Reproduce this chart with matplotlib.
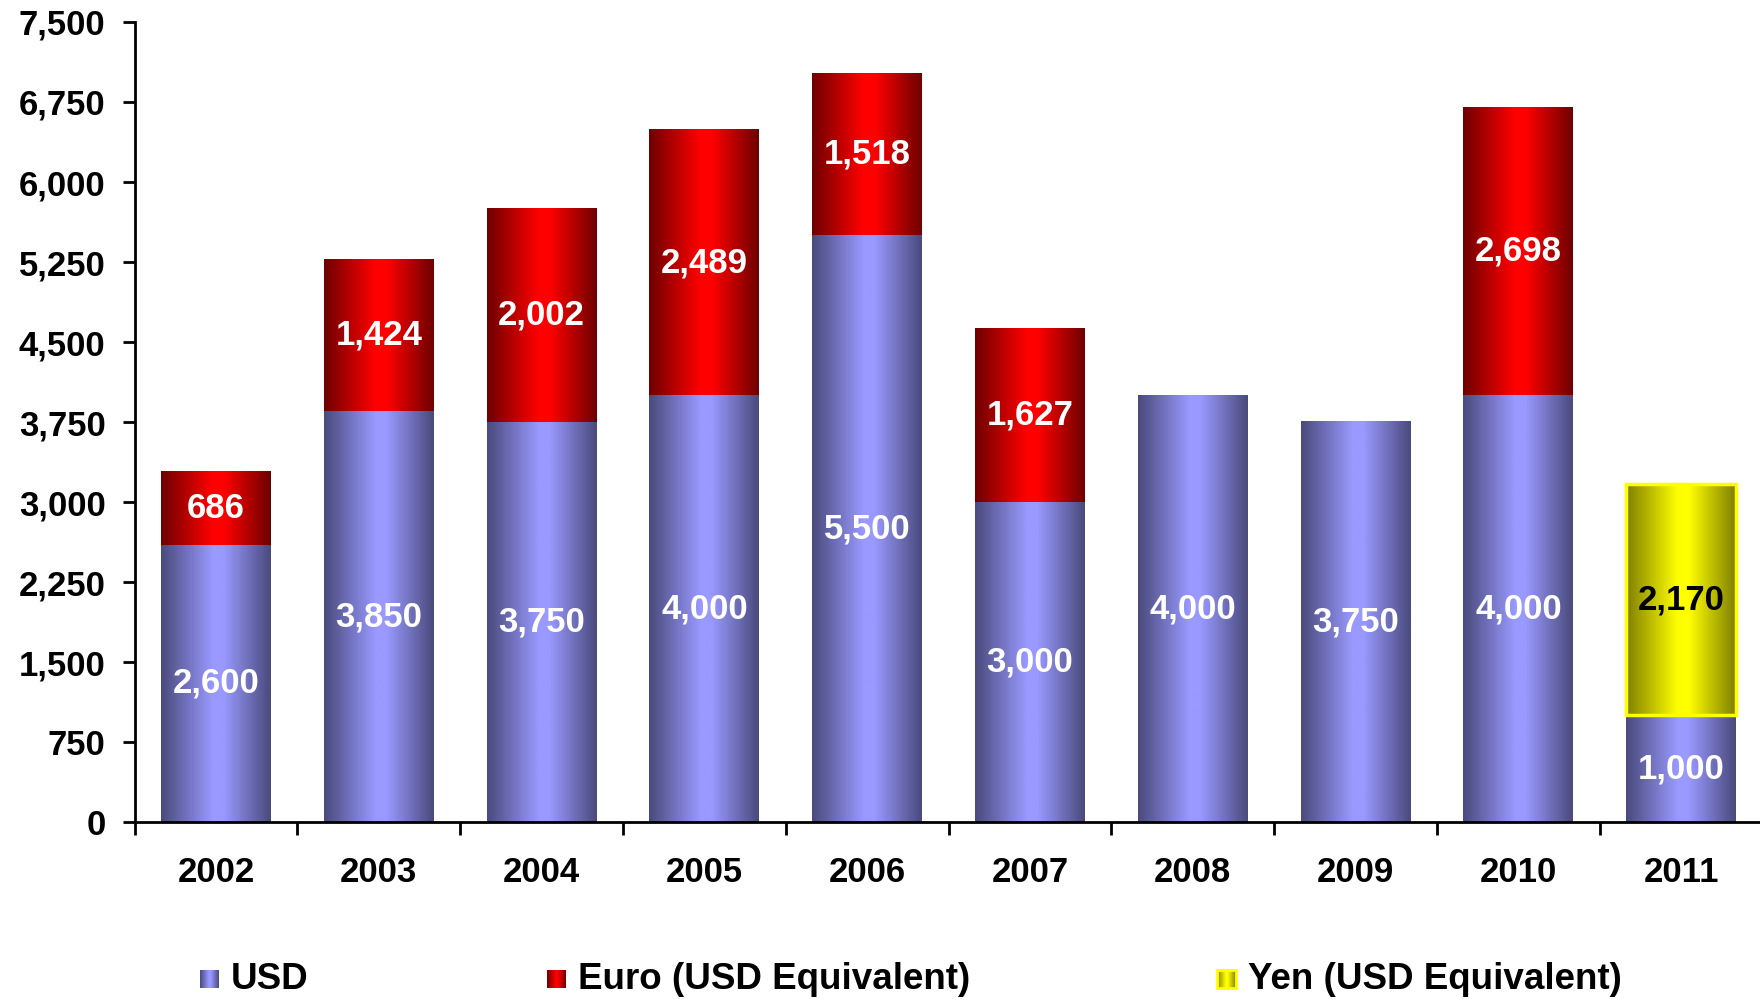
import numpy as np
import matplotlib
matplotlib.use("Agg")
import matplotlib.pyplot as plt
from matplotlib.colors import LinearSegmentedColormap
from matplotlib.patches import Rectangle
from matplotlib.ticker import FuncFormatter, FixedLocator

plt.rcParams['font.family'] = ['Liberation Sans', 'DejaVu Sans']
plt.rcParams['font.weight'] = 'bold'

years = ['2002', '2003', '2004', '2005', '2006', '2007', '2008', '2009', '2010', '2011']
usd = [2600, 3850, 3750, 4000, 5500, 3000, 4000, 3750, 4000, 1000]
euro = [686, 1424, 2002, 2489, 1518, 1627, 0, 0, 2698, 0]
yen = [0, 0, 0, 0, 0, 0, 0, 0, 0, 2170]
series_names = ['USD', 'Euro (USD Equivalent)', 'Yen (USD Equivalent)']

# colormaps: dark edges, bright middle (cylinder look)
cm_usd = LinearSegmentedColormap.from_list('usd', [(0, '#4a4a7c'), (0.47, '#9999ff'), (0.57, '#9999ff'), (1, '#4a4a7c')])
cm_eur = LinearSegmentedColormap.from_list('eur', [(0, '#6e0000'), (0.47, '#ff0000'), (0.57, '#ff0000'), (1, '#6e0000')])
cm_yen = LinearSegmentedColormap.from_list('yen', [(0, '#7f7f00'), (0.47, '#ffff00'), (0.57, '#ffff00'), (1, '#7f7f00')])
grad = np.linspace(0, 1, 256).reshape(1, -1)

fig = plt.figure(figsize=(17.6, 9.99), dpi=100)
ax = fig.add_axes([0.0765, 0.177, 0.925, 0.801])

x = np.arange(len(years))
w = 0.675
usd_arr = np.array(usd)
euro_arr = np.array(euro)
yen_arr = np.array(yen)


def gradient_bars(bars, cmap, values, txtcolor, edge=None):
    for b, v in zip(bars, values):
        if v <= 0:
            continue
        x0, y0, bw, bh = b.get_x(), b.get_y(), b.get_width(), b.get_height()
        ax.imshow(grad, extent=[x0, x0 + bw, y0, y0 + bh], aspect='auto', cmap=cmap, zorder=2, interpolation='bilinear')
        if edge:
            ax.add_patch(Rectangle((x0, y0), bw, bh, fill=False, edgecolor=edge, lw=2.5, zorder=3))
        ax.text(x0 + bw / 2, y0 + bh / 2, f'{v:,}', ha='center', va='center', color=txtcolor,
                fontsize=25, fontweight='bold', zorder=4)


b1 = ax.bar(x, usd_arr, w, color='none', zorder=1)
b2 = ax.bar(x, euro_arr, w, bottom=usd_arr, color='none', zorder=1)
b3 = ax.bar(x, yen_arr, w, bottom=usd_arr + euro_arr, color='none', zorder=1)
gradient_bars(b1, cm_usd, usd, 'white')
gradient_bars(b2, cm_eur, euro, 'white')
gradient_bars(b3, cm_yen, yen, 'black', edge='#ffff00')

ax.set_xlim(-0.5, 9.5)
ax.set_ylim(0, 7500)
ax.set_yticks(np.arange(0, 7501, 750))
ax.yaxis.set_major_formatter(FuncFormatter(lambda v, p: f'{int(v):,}'))
ax.tick_params(axis='y', labelsize=25, length=9, width=2, pad=12)

ax.set_xticks(x)
ax.set_xticklabels(years, fontsize=25, fontweight='bold')
ax.xaxis.set_minor_locator(FixedLocator(np.arange(-0.5, 10, 1)))
ax.tick_params(axis='x', which='major', length=0, pad=24)
ax.tick_params(axis='x', which='minor', length=9, width=2)
for lab in ax.get_yticklabels():
    lab.set_fontweight('bold')

for s in ['top', 'right']:
    ax.spines[s].set_visible(False)
ax.spines['left'].set_linewidth(2)
ax.spines['bottom'].set_linewidth(2)

# legend along the bottom
leg_x = [0.1136, 0.311, 0.6915]
leg_cols = [cm_usd, cm_eur, cm_yen]
ly = 0.02
for lx, name, cm in zip(leg_x, series_names, leg_cols):
    lax = fig.add_axes([lx, ly - 0.009, 0.0105, 0.018])
    lax.imshow(grad, aspect='auto', cmap=cm, extent=[0, 1, 0, 1])
    lax.set_axis_off()
    if cm is cm_yen:
        lax.add_patch(Rectangle((0, 0), 1, 1, fill=False, edgecolor='#ffff00', lw=2, transform=lax.transAxes, clip_on=False))
    fig.text(lx + 0.0175, ly, name, fontsize=26.5, fontweight='bold', va='center', ha='left')

fig.savefig('out.png', dpi=100)
